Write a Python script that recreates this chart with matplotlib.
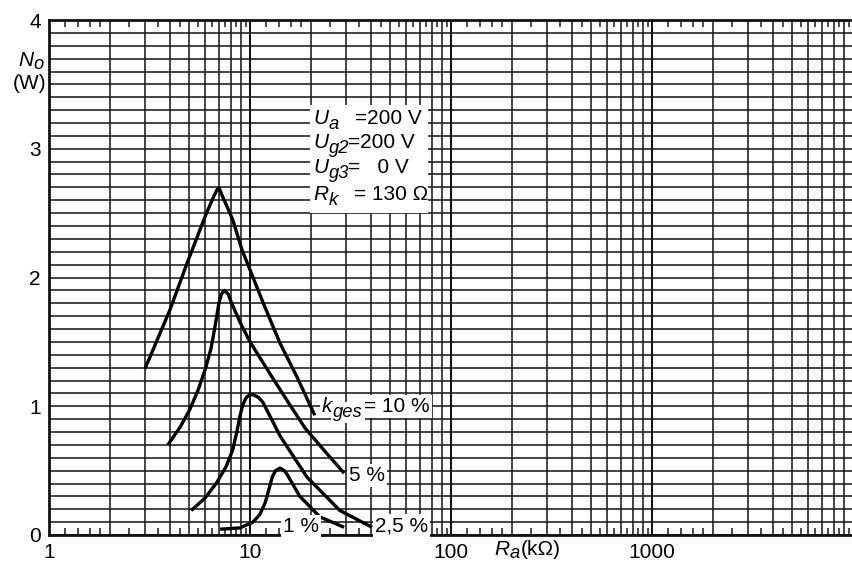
import numpy as np
import matplotlib
matplotlib.use("Agg")
import matplotlib.pyplot as plt
from matplotlib.text import Annotation
from matplotlib.ticker import FixedLocator, FuncFormatter, MultipleLocator, NullFormatter

plt.rcParams['font.family'] = ['Liberation Sans', 'DejaVu Sans']

# curve data: R_a (kOhm) vs N_o (W)
x_10 = [3.0, 4.0, 4.86, 6.0, 6.6, 6.85, 7.0, 7.3, 8.2, 9.1, 11.65, 14.1, 17.1, 21.0]
y_10 = [1.29, 1.75, 2.11, 2.48, 2.63, 2.68, 2.70, 2.63, 2.45, 2.22, 1.80, 1.49, 1.23, 0.93]

x_5 = [3.9, 4.5, 5.0, 5.5, 6.0, 6.4, 6.7, 7.0, 7.2, 7.45, 7.8, 8.1, 9.0, 10.0, 12.6, 15.8, 18.8, 24.2, 29.4]
y_5 = [0.70, 0.84, 0.97, 1.12, 1.29, 1.45, 1.62, 1.80, 1.87, 1.90, 1.87, 1.80, 1.64, 1.50, 1.25, 1.01, 0.83, 0.63, 0.48]

x_25 = [5.1, 6.0, 6.85, 7.6, 8.2, 8.6, 8.9, 9.2, 9.6, 10.0, 10.35, 11.0, 11.6, 14.1, 19.2, 28.0, 40.5]
y_25 = [0.19, 0.29, 0.41, 0.53, 0.66, 0.80, 0.92, 1.01, 1.07, 1.09, 1.09, 1.07, 1.03, 0.77, 0.45, 0.19, 0.06]

x_1 = [7.1, 8.9, 10.35, 11.2, 11.9, 12.4, 12.9, 13.4, 14.1, 14.8, 15.3, 17.7, 22.3, 29.4]
y_1 = [0.045, 0.055, 0.10, 0.16, 0.25, 0.35, 0.45, 0.50, 0.52, 0.50, 0.47, 0.30, 0.14, 0.06]

curves = [(x_10, y_10), (x_5, y_5), (x_25, y_25), (x_1, y_1)]

x_ticks_labeled = [1, 10, 100, 1000]
y_ticks = [0, 1, 2, 3, 4]

W, H = 852, 563
fig = plt.figure(figsize=(W / 100, H / 100), dpi=100)
fig.patch.set_facecolor('white')

# axes box in pixels: left 49, top 20, bottom 535, right edge cut at image border
ax = fig.add_axes([49 / W, 1 - 535 / H, 804 / W, 515 / H])
ax.set_xscale('log')
ax.set_xlim(1, 10000)
ax.set_ylim(0, 4)

# vertical grid at 1..9 of each decade, ticks at the halves
ax.xaxis.set_major_locator(FixedLocator([m * 10 ** d for d in range(4) for m in range(1, 10)] + [10000]))
ax.xaxis.set_major_formatter(FuncFormatter(lambda v, p: f"{int(round(v))}" if round(v) in x_ticks_labeled else ""))
ax.xaxis.set_minor_locator(FixedLocator([m * 10 ** d for d in range(4)
                                         for m in (1.2, 1.4, 1.6, 1.8, 2.5, 3.5, 4.5, 5.5, 6.5, 7.5, 8.5, 9.5)]))
ax.xaxis.set_minor_formatter(NullFormatter())
ax.yaxis.set_major_locator(FixedLocator(y_ticks))
ax.yaxis.set_minor_locator(MultipleLocator(0.1))

ax.grid(True, which='major', axis='x', color='#1a1a1a', lw=1.15)
ax.grid(True, which='both', axis='y', color='#1a1a1a', lw=1.15)
for d in x_ticks_labeled[1:]:
    ax.axvline(d, color='#111111', lw=1.4)

fs = 15
ax.tick_params(axis='x', which='major', length=0, pad=6, labelsize=fs)
ax.tick_params(axis='x', which='minor', direction='in', length=5, width=1.1,
               top=True, bottom=True, color='#1a1a1a')
ax.tick_params(axis='y', which='both', length=0, pad=6, labelsize=fs)
for s in ['left', 'bottom', 'top']:
    ax.spines[s].set_linewidth(2.0)
    ax.spines[s].set_color('#111111')
ax.spines['right'].set_visible(False)

for xs, ys in curves:
    ax.plot(xs, ys, color='black', lw=2.4, solid_joinstyle='round', solid_capstyle='butt', zorder=5)


def px(x, y):
    return x / W, 1 - y / H


def after(prev, s, dx=0.3, dy=0.0, **kw):
    # text placed right after another text (figure level, so it sits above the axes)
    a = Annotation(s, xy=(1, 0), xycoords=prev, xytext=(dx, dy), textcoords='offset points',
                   ha='left', va='bottom', annotation_clip=False, zorder=4, **kw)
    fig.add_artist(a)
    return a


def sym(x, y, main, sub, drop=3.5, box=None):
    # italic letter with a large italic subscript, baseline at pixel y
    t = fig.text(*px(x, y), main, fontsize=fs, style='italic', ha='left', va='baseline', zorder=3, bbox=box)
    return after(t, sub, dy=-drop, fontsize=fs * 0.88, style='italic', bbox=box)


# axis titles
sym(18, 66, 'N', 'o', drop=2.5)
fig.text(*px(30, 89), '(W)', fontsize=fs, ha='center', va='baseline')
sub_r = sym(494, 555, 'R', 'a', drop=2.5)
after(sub_r, '(k\u03a9)', dx=0.5, dy=2.5, fontsize=fs)

# operating conditions, on a white patch over the grid
fig.patches.append(plt.Rectangle(px(310, 213), 118 / W, 108 / H, transform=fig.transFigure,
                                 facecolor='white', edgecolor='none', zorder=1))
rows = [('U', 'a', 124, 355, '=200 V'), ('U', 'g2', 148, 348, '=200 V'),
        ('U', 'g3', 173, 348, '=   0 V'), ('R', 'k', 200, 354, '= 130 \u03a9')]
for main, sub, y, xe, val in rows:
    sym(313, y, main, sub)
    fig.text(*px(xe, y), val, fontsize=fs, ha='left', va='baseline', zorder=3)

# curve labels
box = dict(facecolor='white', edgecolor='none', pad=1.5)
sym(322, 412, 'k', 'ges', drop=3.5, box=box)
fig.text(*px(364, 412), '= 10 %', fontsize=fs, ha='left', va='baseline', bbox=box, zorder=3)
fig.text(*px(349, 481), '5 %', fontsize=fs, ha='left', va='baseline', bbox=box, zorder=3)
fig.text(*px(375, 531), '2,5 %', fontsize=fs, ha='left', va='baseline', bbox=box, zorder=3)
fig.text(*px(283, 532), '1 %', fontsize=fs, ha='left', va='baseline', bbox=box, zorder=3)

fig.savefig('out.png', dpi=100)
